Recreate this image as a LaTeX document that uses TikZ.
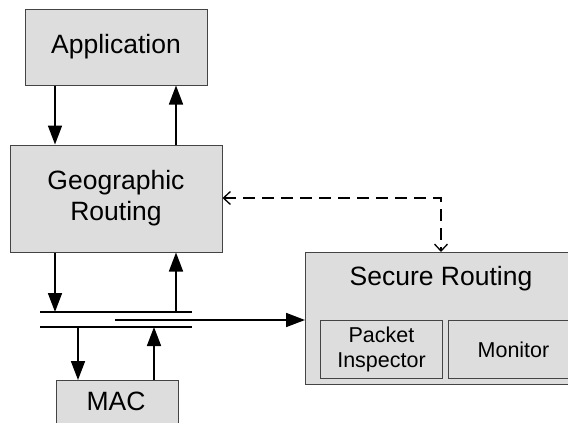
\documentclass[tikz,border=0pt]{standalone}
\usepackage{fontspec}
\setmainfont{Liberation Sans}
\usetikzlibrary{arrows.meta}
\definecolor{boxfill}{HTML}{DDDDDD}
\definecolor{boxline}{HTML}{444444}
\tikzset{
  layer/.style={draw=boxline, fill=boxfill, line width=1pt, inner sep=0pt,
    font=\fontsize{26.5}{31}\selectfont, align=center},
  sublayer/.style={layer, font=\fontsize{21.5}{25}\selectfont},
  flow/.style={line width=1.7pt, -{Triangle[length=19pt,width=14pt]}},
  bus/.style={line width=1.7pt},
  ctrl/.style={line width=1.3pt, dash pattern=on 12pt off 7pt,
    {Straight Barb[length=7pt,width=13pt]}-{Straight Barb[length=7pt,width=13pt]}}
}
\begin{document}
\begin{tikzpicture}[x=1pt,y=-1pt]
\clip (0,0) rectangle (568,423);
\fill[white] (0,0) rectangle (568,423);

% protocol layers
\node[layer, minimum width=182pt, minimum height=76pt] (app) at (116,47) {Application};
\node[layer, minimum width=212pt, minimum height=107pt] (geo) at (116,198.5) {Geographic\\Routing};
\node[layer, minimum width=122pt, minimum height=60pt, anchor=north west] (mac) at (55.5,380) {};
\node[font=\fontsize{26.5}{31}\selectfont] (macl) at (116,401) {MAC};
\node[layer, minimum width=280pt, minimum height=132pt, anchor=north west] (sec) at (305,252) {};
\node[font=\fontsize{26.5}{31}\selectfont] (secl) at (441,279) {Secure Routing};
\node[sublayer, minimum width=122pt, minimum height=58pt, anchor=north west] (pi) at (320,320) {Packet\\Inspector};
\node[sublayer, minimum width=130pt, minimum height=58pt, anchor=north west] (mon) at (448,320) {Monitor};

% columns and bus
\coordinate (c1) at (55,0);
\coordinate (c2) at (176,0);
\coordinate (c3) at (78,0);
\coordinate (c4) at (154,0);
\coordinate (bta) at (40,312);
\coordinate (btb) at (192,312);
\coordinate (bma) at (115,320);
\coordinate (bba) at (40,327);
\coordinate (bbb) at (192,327);
\coordinate (dc) at (441,198);

\draw[bus] (bta) -- (btb);
\draw[bus] (bba) -- (bbb);
\draw[flow] (bma) -- (sec.west |- bma);

\draw[flow] (app.south -| c1) -- (geo.north -| c1);
\draw[flow] (geo.north -| c2) -- (app.south -| c2);
\draw[flow] (geo.south -| c1) -- (bta -| c1);
\draw[flow] (bta -| c2) -- (geo.south -| c2);
\draw[flow] (bba -| c3) -- (mac.north -| c3);
\draw[flow] (mac.north -| c4) -- (bba -| c4);

% control link between the routing layers
\draw[ctrl] (geo.east |- dc) -- (dc) -- (sec.north -| dc);
\end{tikzpicture}
\end{document}
